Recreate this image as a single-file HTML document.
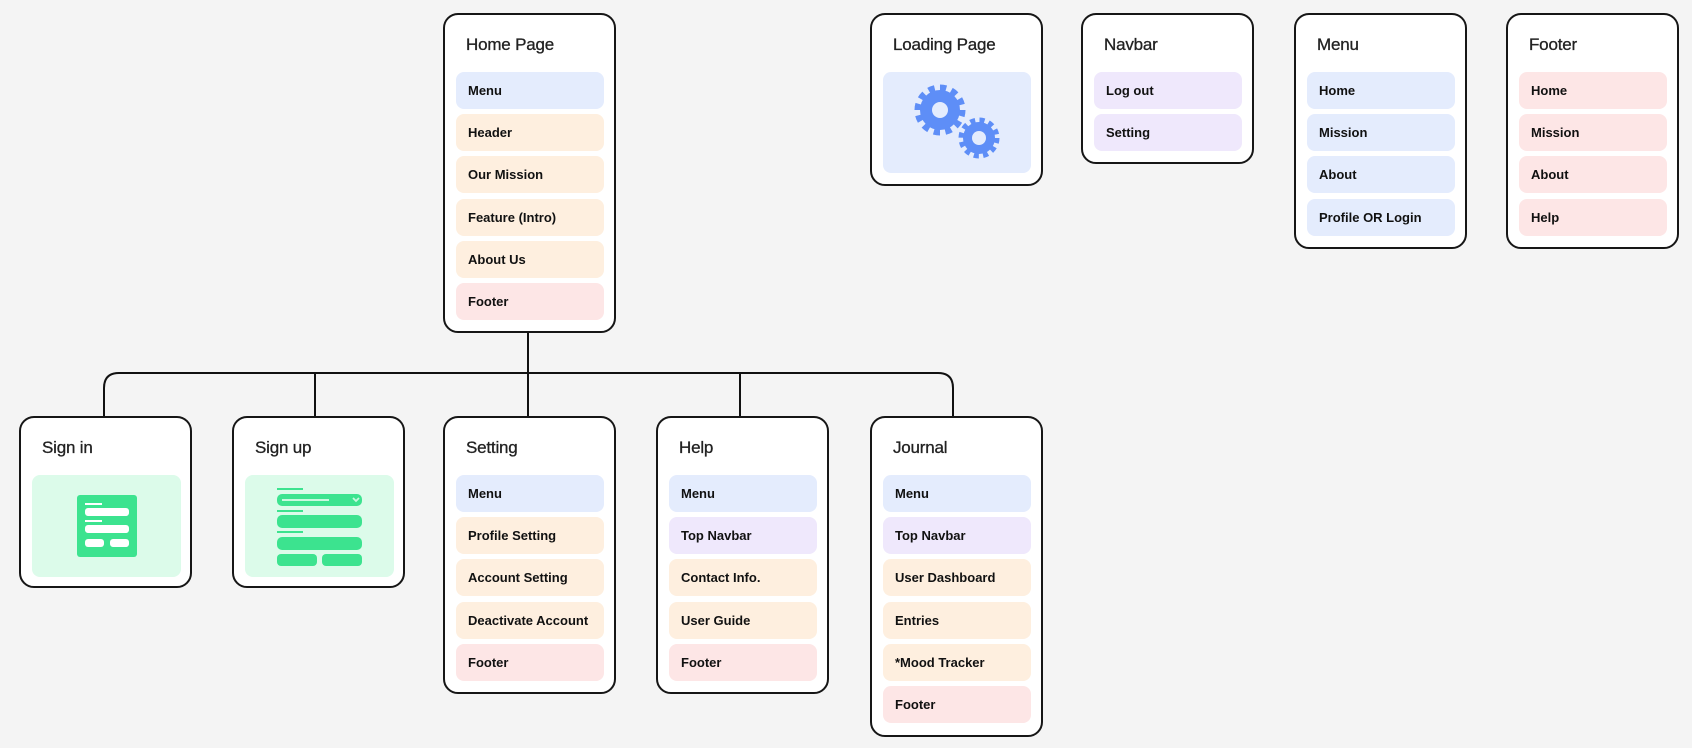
<!DOCTYPE html>
<html><head><meta charset="utf-8"><style>
body{margin:0;width:1692px;height:748px;background:#f4f4f4;position:relative;overflow:hidden;font-family:"Liberation Sans",sans-serif}
.c{position:absolute;background:#fff;border:2px solid #161616;border-radius:15px;box-sizing:border-box;width:173px}
.t{position:absolute;left:21px;top:20px;font-size:17px;color:#222;letter-spacing:-0.2px;-webkit-text-stroke:0.3px #222}
.i{position:absolute;left:11px;width:148px;height:37px;border-radius:8px;font-size:13px;font-weight:bold;color:#111;line-height:37px;padding-left:12px;box-sizing:border-box}
.b{background:#e4ecfd}.o{background:#feefdf}.p{background:#fde6e6}.v{background:#efe8fc}
.g{position:absolute;left:11px;top:57px;width:149px;height:102px;border-radius:8px;background:#dcfbea}
</style></head><body>
<svg style="position:absolute;left:0;top:0" width="1692" height="748"><path d="M528 333V373M104 416V388Q104 373 119 373H938Q953 373 953 388V416M315 373V416M528 373V416M740 373V416" fill="none" stroke="#111" stroke-width="2"/></svg>

<div class="c" style="left:443px;top:13px;height:320px"><div class="t">Home Page</div>
<div class="i b" style="top:57px">Menu</div><div class="i o" style="top:99px">Header</div><div class="i o" style="top:141px">Our Mission</div><div class="i o" style="top:184px">Feature (Intro)</div><div class="i o" style="top:226px">About Us</div><div class="i p" style="top:268px">Footer</div></div>

<div class="c" style="left:870px;top:13px;height:173px"><div class="t">Loading Page</div>
<div class="g" style="background:#e4ecfd;height:101px;width:148px"><svg width="149" height="101">
<g fill="#5e8ef7"><circle cx="57" cy="38" r="20"/><circle cx="57" cy="38" r="22" fill="none" stroke="#5e8ef7" stroke-width="7" stroke-dasharray="6.2 5.3"/><circle cx="96" cy="66" r="16"/><circle cx="96" cy="66" r="17.5" fill="none" stroke="#5e8ef7" stroke-width="6" stroke-dasharray="5 4.2"/></g>
<circle cx="57" cy="38" r="8" fill="#e4ecfd"/><circle cx="96" cy="66" r="7" fill="#e4ecfd"/></svg></div></div>

<div class="c" style="left:1081px;top:13px;height:151px"><div class="t">Navbar</div>
<div class="i v" style="top:57px">Log out</div><div class="i v" style="top:99px">Setting</div></div>

<div class="c" style="left:1294px;top:13px;height:236px"><div class="t">Menu</div>
<div class="i b" style="top:57px">Home</div><div class="i b" style="top:99px">Mission</div><div class="i b" style="top:141px">About</div><div class="i b" style="top:184px">Profile OR Login</div></div>

<div class="c" style="left:1506px;top:13px;height:236px"><div class="t">Footer</div>
<div class="i p" style="top:57px">Home</div><div class="i p" style="top:99px">Mission</div><div class="i p" style="top:141px">About</div><div class="i p" style="top:184px">Help</div></div>

<div class="c" style="left:19px;top:416px;height:172px"><div class="t">Sign in</div>
<div class="g"><svg width="149" height="102"><rect x="45" y="20" width="60" height="62" rx="3" fill="#3ce38f"/>
<g fill="#fff"><rect x="53" y="28" width="17" height="2"/><rect x="53" y="33" width="44" height="8" rx="3"/><rect x="53" y="45" width="17" height="2"/><rect x="53" y="50" width="44" height="8" rx="3"/><rect x="53" y="64" width="19" height="8" rx="3"/><rect x="78" y="64" width="19" height="8" rx="3"/></g></svg></div></div>

<div class="c" style="left:232px;top:416px;height:172px"><div class="t">Sign up</div>
<div class="g"><svg width="149" height="102"><g fill="#3ce38f"><rect x="32" y="13" width="26" height="2"/><rect x="32" y="19" width="85" height="12" rx="5"/><rect x="32" y="35" width="26" height="2"/><rect x="32" y="40" width="85" height="13" rx="5"/><rect x="32" y="56" width="26" height="2"/><rect x="32" y="62" width="85" height="13" rx="5"/><rect x="32" y="79" width="40" height="12" rx="4"/><rect x="77" y="79" width="40" height="12" rx="4"/></g>
<rect x="37" y="24" width="47" height="2" fill="#c9f8df"/><path d="M108 23l3 3 3-3" stroke="#c9f8df" stroke-width="1.8" fill="none"/></svg></div></div>

<div class="c" style="left:443px;top:416px;height:278px"><div class="t">Setting</div>
<div class="i b" style="top:57px">Menu</div><div class="i o" style="top:99px">Profile Setting</div><div class="i o" style="top:141px">Account Setting</div><div class="i o" style="top:184px">Deactivate Account</div><div class="i p" style="top:226px">Footer</div></div>

<div class="c" style="left:656px;top:416px;height:278px"><div class="t">Help</div>
<div class="i b" style="top:57px">Menu</div><div class="i v" style="top:99px">Top Navbar</div><div class="i o" style="top:141px">Contact Info.</div><div class="i o" style="top:184px">User Guide</div><div class="i p" style="top:226px">Footer</div></div>

<div class="c" style="left:870px;top:416px;height:321px"><div class="t">Journal</div>
<div class="i b" style="top:57px">Menu</div><div class="i v" style="top:99px">Top Navbar</div><div class="i o" style="top:141px">User Dashboard</div><div class="i o" style="top:184px">Entries</div><div class="i o" style="top:226px">*Mood Tracker</div><div class="i p" style="top:268px">Footer</div></div>
</body></html>
